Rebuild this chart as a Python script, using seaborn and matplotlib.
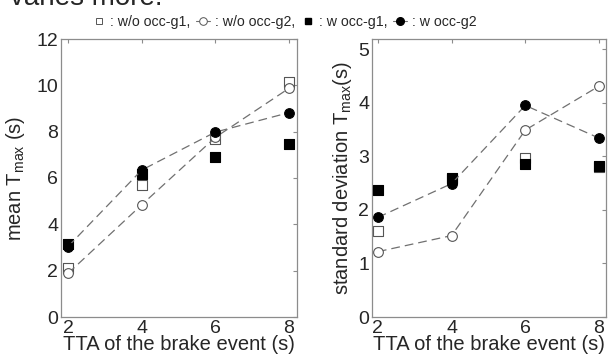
import matplotlib
matplotlib.use("Agg")
import matplotlib.pyplot as plt
from matplotlib.lines import Line2D
import seaborn as sns
import pandas as pd

# TTA of the brake event (s)
tta = [2, 4, 6, 8]

# mean T_max (s)
mean_wo_g1 = [2.12, 5.68, 7.70, 10.15]
mean_wo_g2 = [1.88, 4.84, 7.75, 9.87]
mean_w_g1 = [3.14, 6.17, 6.90, 7.46]
mean_w_g2 = [3.04, 6.34, 7.98, 8.82]

# standard deviation T_max (s)
sd_wo_g1 = [1.61, 2.58, 2.97, 2.80]
sd_wo_g2 = [1.22, 1.52, 3.49, 4.31]
sd_w_g1 = [2.37, 2.60, 2.85, 2.82]
sd_w_g2 = [1.86, 2.49, 3.95, 3.34]

legend_labels = [": w/o occ-g1,", ": w/o occ-g2,", ": w occ-g1,", ": w occ-g2"]

sns.set_style("white")
plt.rcParams["font.family"] = ["Liberation Sans", "DejaVu Sans"]
plt.rcParams["mathtext.default"] = "regular"

SPINE = "#8c8c8c"
LINE = "#707070"

fig = plt.figure(figsize=(6.08, 3.56), dpi=100)
ax1 = fig.add_axes([61 / 608, 39 / 356, 236 / 608, 278 / 356])
ax2 = fig.add_axes([372 / 608, 39 / 356, 234 / 608, 278 / 356])


def draw_panel(ax, wo_g1, wo_g2, w_g1, w_g2):
    df = pd.DataFrame({"tta": tta, "wo_g1": wo_g1, "wo_g2": wo_g2,
                       "w_g1": w_g1, "w_g2": w_g2})
    sns.lineplot(data=df, x="tta", y="wo_g2", ax=ax, color=LINE, lw=0.9,
                 linestyle=(0, (7, 4)), marker="o", ms=7,
                 markerfacecolor="white", markeredgecolor="#555555",
                 markeredgewidth=0.8, zorder=3)
    sns.lineplot(data=df, x="tta", y="w_g2", ax=ax, color=LINE, lw=0.9,
                 linestyle=(0, (7, 4)), marker="o", ms=7,
                 markerfacecolor="black", markeredgecolor="black", zorder=4)
    sns.scatterplot(data=df, x="tta", y="wo_g1", ax=ax, marker="s", s=46,
                    facecolor="white", edgecolor="#555555", linewidth=0.8,
                    zorder=2)
    sns.scatterplot(data=df, x="tta", y="w_g1", ax=ax, marker="s", s=46,
                    facecolor="black", edgecolor="black", linewidth=0.8,
                    zorder=3)
    ax.set_xticks(tta)
    ax.tick_params(direction="in", length=3, color=SPINE, labelsize=14,
                   top=True, right=True, pad=2)
    for sp in ax.spines.values():
        sp.set_color(SPINE)
        sp.set_linewidth(0.9)
    ax.set_xlabel("TTA of the brake event (s)", fontsize=14.5, labelpad=-1)


draw_panel(ax1, mean_wo_g1, mean_wo_g2, mean_w_g1, mean_w_g2)
ax1.set_xlim(1.81, 8.22)
ax1.set_ylim(0, 12)
ax1.set_yticks([0, 2, 4, 6, 8, 10, 12])
ax1.set_ylabel("mean T$_{max}$ (s)", fontsize=14.5, labelpad=7)

draw_panel(ax2, sd_wo_g1, sd_wo_g2, sd_w_g1, sd_w_g2)
ax2.set_xlim(1.84, 8.19)
ax2.set_ylim(0, 5.19)
ax2.set_yticks([0, 1, 2, 3, 4, 5])
ax2.set_ylabel("standard deviation T$_{max}$(s)", fontsize=14.5, labelpad=3)

# legend row above both panels
handles = [
    Line2D([], [], ls="none", marker="s", ms=5, mfc="white", mec="#555555", mew=0.7),
    Line2D([], [], color=LINE, lw=0.8, marker="o", ms=5.5, mfc="white", mec="#555555", mew=0.7),
    Line2D([], [], ls="none", marker="s", ms=5, mfc="black", mec="black"),
    Line2D([], [], color=LINE, lw=0.8, marker="o", ms=5.5, mfc="black", mec="black"),
]
fig.legend(handles, legend_labels, loc="center", bbox_to_anchor=(284 / 608, 1 - 22 / 356),
           ncol=4, frameon=False, fontsize=10.2, handlelength=1.0,
           handletextpad=0.3, columnspacing=0.4, borderaxespad=0)

# running text from the page above the figure
fig.text(10 / 608, 1 - 5 / 356, "varies more.", fontsize=20, ha="left", va="baseline")

fig.savefig("out.png", dpi=100)
